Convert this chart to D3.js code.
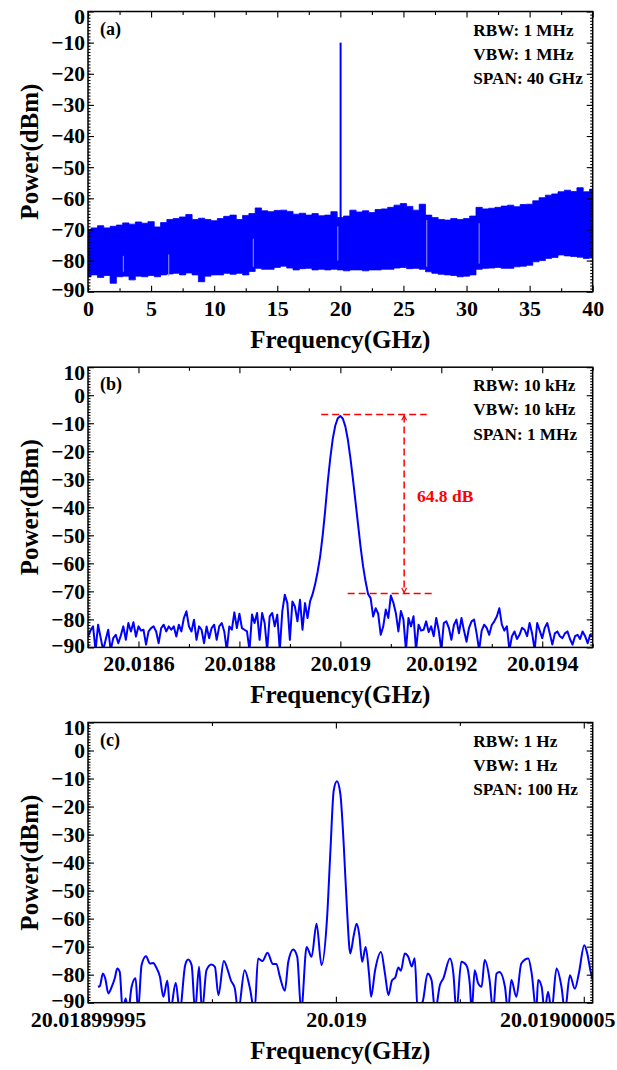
<!DOCTYPE html>
<html>
<head>
<meta charset="utf-8">
<script src="https://cdn.jsdelivr.net/npm/d3@7"></script>
<style>
  body { margin: 0; background: #fff; }
  svg text { font-family: "Liberation Serif", "Times New Roman", serif; font-weight: bold; }
</style>
</head>
<body>
<div id="chart"></div>
<script>
// ---------- data ----------
// (a) 0-40 GHz span: the trace is a dense noise band, kept as its upper / lower envelope (every 0.5 GHz)
const bandStartGHz = 0, bandStepGHz = 0.5;
const bandUpper = [
  -70.0, -69.5, -68.8, -69.5, -69.0, -68.6, -67.9, -68.3, -67.6, -68.0,
  -67.5, -69.2, -67.8, -66.8, -66.5, -66.0, -65.2, -66.8, -66.4, -66.8,
  -67.2, -66.5, -65.8, -65.4, -66.8, -65.5, -64.9, -63.1, -64.0, -64.3,
  -63.9, -63.8, -64.2, -65.1, -64.8, -65.4, -64.9, -65.6, -65.4, -64.3,
  -66.2, -65.7, -63.8, -64.4, -64.0, -64.6, -63.6, -63.4, -62.9, -62.2,
  -61.7, -62.6, -63.8, -61.9, -65.4, -66.2, -66.8, -67.0, -66.5, -66.8,
  -66.5, -65.7, -62.9, -63.4, -63.2, -62.9, -62.5, -62.2, -62.7, -62.0,
  -61.9, -60.8, -59.8, -59.0, -58.6, -57.9, -57.4, -57.8, -56.6, -57.9,
  -57.1
];
const bandLower = [
  -85.2, -84.6, -85.4, -84.8, -87.3, -85.2, -85.0, -86.2, -85.0, -85.2,
  -84.8, -85.2, -84.6, -84.3, -84.1, -84.6, -84.0, -84.6, -86.8, -85.0,
  -84.6, -84.6, -84.1, -84.4, -84.1, -84.6, -83.5, -82.5, -82.8, -82.8,
  -82.2, -81.8, -82.4, -83.0, -82.6, -82.5, -83.0, -82.8, -83.0, -82.8,
  -83.0, -83.3, -83.0, -83.0, -83.3, -83.0, -83.0, -82.8, -82.8, -82.4,
  -82.2, -82.6, -82.5, -82.8, -83.6, -84.1, -84.4, -84.6, -84.8, -85.2,
  -85.0, -84.6, -82.8, -82.5, -82.4, -82.2, -82.5, -82.5, -82.0, -81.8,
  -81.5, -80.4, -80.0, -79.3, -79.0, -78.2, -78.5, -78.7, -78.9, -79.3,
  -79.0
];
// carrier line and the pale gaps seen inside the band
const carrierFreqGHz = [20.02];
const carrierPower = [-10];
const gapFreqGHz = [2.8, 6.4, 13.1, 19.8, 26.85, 31.0];
const gapTop = [-78.5, -78.0, -73.0, -69.0, -67.0, -68.0];
const gapBottom = [-83.6, -85.0, -82.0, -80.0, -82.0, -81.0];

// (b) 1 MHz span, offset from 20.019 GHz in kHz, one point every 5 kHz
const spanBStartKHz = -500, spanBStepKHz = 5;
const spanBPower = [
  -86.1, -84.0, -82.5, -91.0, -81.9, -86.5, -91.0, -87.3, -83.7, -91.0,
  -86.7, -85.5, -88.5, -85.8, -82.5, -87.3, -81.3, -84.3, -81.0, -86.1,
  -82.5, -84.0, -83.7, -89.0, -84.3, -83.1, -82.5, -84.3, -88.5, -83.1,
  -81.9, -84.3, -82.5, -83.7, -82.5, -86.1, -81.9, -84.3, -79.5, -77.1,
  -82.5, -84.3, -80.1, -87.3, -82.5, -83.7, -88.5, -82.5, -86.7, -83.1,
  -81.9, -87.3, -82.5, -81.3, -84.3, -91.0, -82.5, -83.7, -77.5, -83.1,
  -78.0, -83.1, -83.7, -84.3, -91.0, -78.3, -81.3, -77.7, -87.3, -77.7,
  -81.3, -91.0, -78.9, -77.7, -82.5, -78.3, -91.0, -77.1, -71.2, -74.2,
  -87.3, -73.6, -75.4, -80.7, -73.0, -83.7, -74.2, -79.5, -73.6, -71.0,
  -67.5, -63.0, -57.5, -50.0, -41.0, -31.0, -22.5, -15.5, -10.8, -8.2,
  -7.4, -8.4, -11.2, -16.0, -22.5, -30.0, -38.0, -46.0, -54.0, -61.0,
  -66.5, -71.0, -72.4, -79.0, -76.0, -78.0, -85.5, -82.5, -76.5, -79.5,
  -71.5, -74.0, -77.8, -84.3, -77.0, -80.0, -91.0, -79.5, -82.5, -78.9,
  -91.0, -81.9, -84.0, -83.7, -80.7, -84.5, -82.5, -86.0, -79.5, -84.0,
  -91.0, -81.3, -80.7, -83.0, -87.3, -82.0, -80.1, -85.0, -79.5, -84.0,
  -88.0, -83.0, -80.7, -80.1, -85.0, -91.0, -84.0, -81.9, -83.0, -85.5,
  -82.0, -80.7, -79.0, -76.0, -81.9, -84.0, -82.5, -91.0, -86.0, -84.3,
  -87.0, -85.5, -83.0, -83.7, -86.0, -81.3, -85.0, -91.0, -81.3, -84.0,
  -86.7, -83.0, -81.3, -85.0, -89.0, -85.0, -84.3, -86.0, -86.7, -85.0,
  -84.3, -87.0, -89.0, -86.0, -85.5, -87.0, -84.3, -86.0, -88.5, -85.5,
  -86.0
];
const markTopDb = -6.9, markBottomDb = -70.8;
const markLabel = "64.8 dB";

// (c) 100 Hz span, offset from 20.019 GHz in Hz (turning points of the trace)
const spanCHz = [
  -48.0, -47.6, -47.0, -46.5, -45.9, -45.2, -44.6, -44.1, -43.6, -43.0,
  -42.4, -41.9, -41.2, -40.4, -39.9, -39.2, -38.3, -37.5, -36.8, -36.3,
  -35.5, -34.8, -34.0, -33.4, -32.3, -31.5, -30.4, -29.8, -29.1, -28.4,
  -27.6, -27.0, -26.1, -25.1, -24.4, -23.7, -22.6, -21.7, -21.2, -20.4,
  -19.7, -18.4, -17.4, -16.4, -15.7, -14.8, -13.8, -12.7, -12.0, -11.3,
  -10.3, -9.6, -8.6, -7.8, -7.0, -5.9, -4.9, -3.9, -2.9, -1.8,
  -1.1, -0.44, 0.2, 0.9, 1.57, 2.25, 2.9, 3.6, 4.2, 4.7,
  5.3, 6.0, 6.7, 7.1, 7.9, 9.1, 9.9, 10.6, 11.3, 12.0,
  12.6, 13.1, 13.9, 14.6, 15.3, 15.9, 16.5, 17.6, 18.5, 19.3,
  20.0, 21.0, 21.7, 23.0, 23.7, 24.3, 25.3, 26.3, 27.0, 27.4,
  28.0, 28.7, 29.4, 30.0, 31.0, 31.7, 32.4, 33.0, 34.1, 34.7,
  35.4, 36.4, 37.4, 38.8, 39.5, 40.4, 40.8, 41.5, 42.1, 42.8,
  43.5, 44.5, 45.5, 46.2, 47.2, 48.2, 49.0, 50.1, 50.7, 51.4,
  51.8
];
const spanCPower = [
  -84.3, -84.0, -79.6, -81.5, -86.7, -84.3, -81.3, -77.8, -79.0, -93.0,
  -88.5, -93.0, -84.3, -81.3, -93.0, -76.6, -73.4, -76.0, -75.8, -77.2,
  -80.7, -87.9, -82.2, -93.0, -82.9, -93.0, -76.6, -74.6, -76.6, -93.0,
  -77.2, -93.0, -78.4, -76.4, -77.2, -87.3, -75.1, -79.0, -81.9, -84.8,
  -93.0, -78.4, -84.3, -93.0, -74.2, -75.1, -72.2, -76.2, -76.2, -80.7,
  -85.7, -75.4, -71.0, -73.6, -93.0, -70.1, -73.6, -61.8, -76.6, -60.3,
  -35.7, -14.3, -11.0, -15.5, -33.2, -57.0, -72.4, -66.0, -61.8, -65.5,
  -75.4, -70.1, -80.0, -87.9, -78.5, -71.9, -79.6, -87.3, -82.1, -80.9,
  -77.4, -78.6, -72.4, -73.6, -77.1, -74.1, -93.0, -88.9, -79.6, -82.0,
  -93.0, -83.6, -81.2, -74.2, -79.6, -93.0, -75.4, -76.6, -83.1, -93.0,
  -78.4, -83.1, -84.3, -74.8, -81.9, -93.0, -79.6, -79.0, -84.3, -93.0,
  -81.9, -87.9, -76.0, -74.2, -79.6, -93.0, -81.9, -84.3, -93.0, -86.1,
  -93.0, -77.8, -84.3, -93.0, -80.2, -85.0, -79.6, -69.5, -72.4, -79.0,
  -82.0
];

const infoA = ["RBW: 1 MHz", "VBW: 1 MHz", "SPAN: 40 GHz"];
const infoB = ["RBW: 10 kHz", "VBW: 10 kHz", "SPAN: 1 MHz"];
const infoC = ["RBW: 1 Hz", "VBW: 1 Hz", "SPAN: 100 Hz"];

// ---------- layout ----------
const W = 617, H = 1070;
const left = 88, plotW = 504.7, plotH = 280.2;
const tops = [11.5, 367.2, 722.5];
const blue = "#0000ff";
const serif = '"Liberation Serif", "Times New Roman", Times, serif';

const svg = d3.select('#chart').append('svg')
  .attr('width', W).attr('height', H);

const trim = s => s.replace(/\.?0+$/, '');

function drawFrame(g, x, y, o) {
  const axes = [
    [d3.axisBottom(x).tickValues(o.xMinor).tickSize(-3.5).tickFormat(''), `translate(0,${plotH})`],
    [d3.axisTop(x).tickValues(o.xMinor).tickSize(-3.5).tickFormat(''), 'translate(0,0)'],
    [d3.axisTop(x).tickValues(o.xMajor).tickSize(-6).tickFormat(''), 'translate(0,0)'],
    [d3.axisLeft(y).tickValues(o.yMinor).tickSize(-2.5).tickFormat(''), 'translate(0,0)'],
    [d3.axisRight(y).tickValues(o.yMinor).tickSize(-2.5).tickFormat(''), `translate(${plotW},0)`],
    [d3.axisRight(y).tickValues(o.yMajor).tickSize(-6).tickFormat(''), `translate(${plotW},0)`]
  ];
  axes.forEach(([a, tr]) => {
    g.append('g').attr('transform', tr).call(a)
      .call(s => s.select('.domain').remove())
      .selectAll('line').attr('stroke-width', 1.1);
  });

  // labelled bottom axis
  const xb = g.append('g').attr('transform', `translate(0,${plotH})`)
    .call(d3.axisBottom(x).tickValues(o.xMajor).tickSize(-6).tickPadding(8.4).tickFormat(o.xFormat));
  xb.select('.domain').remove();
  xb.selectAll('line').attr('stroke-width', 1.1);
  xb.attr('font-family', serif).attr('font-size', null);
  xb.selectAll('text').attr('font-size', 22).attr('fill', '#000');
  // keep the last label inside the page
  xb.selectAll('.tick text').each(function(d) {
    const w = this.getComputedTextLength();
    const cx = left + x(d);
    if (cx + w / 2 > W - 2) d3.select(this).attr('x', (W - 2) - cx - w / 2);
  });

  // labelled left axis
  const yl = g.append('g')
    .call(d3.axisLeft(y).tickValues(o.yMajor).tickSize(-6).tickPadding(3).tickFormat(d3.format('d')));
  yl.select('.domain').remove();
  yl.selectAll('line').attr('stroke-width', 1.1);
  yl.attr('font-family', serif).attr('font-size', null);
  yl.selectAll('text').attr('font-size', 21.5).attr('fill', '#000');
  yl.selectAll('.tick').filter(d => d === y.domain()[1]).select('text').attr('dy', '0.56em');
  yl.selectAll('.tick').filter(d => d === y.domain()[0]).select('text').attr('dy', '0.24em');

  g.append('rect').attr('width', plotW).attr('height', plotH)
    .attr('fill', 'none').attr('stroke', '#000').attr('stroke-width', 1.5);

  // axis titles
  g.append('text').attr('x', plotW / 2).attr('y', plotH + 56)
    .attr('text-anchor', 'middle').attr('font-size', 25).text('Frequency(GHz)');
  g.append('text').attr('transform', `translate(${38 - left},${plotH / 2}) rotate(-90)`)
    .attr('text-anchor', 'middle').attr('font-size', 25).text('Power(dBm)');

  // panel tag and analyser settings
  g.append('text').attr('x', 12).attr('y', 23).attr('font-size', 18).text(o.tag);
  g.selectAll('.info').data(o.info).enter().append('text')
    .attr('class', 'info')
    .attr('x', 385.3).attr('y', (d, i) => 24 + i * 24.2)
    .attr('font-size', 17.2).text(d => d);
}

function clipFor(g, id) {
  g.append('clipPath').attr('id', id).append('rect')
    .attr('width', plotW).attr('height', plotH);
  return `url(#${id})`;
}

// ---------- (a) ----------
{
  const g = svg.append('g').attr('transform', `translate(${left},${tops[0]})`);
  const x = d3.scaleLinear().domain([0, 40]).range([0, plotW]);
  const y = d3.scaleLinear().domain([-90, 0]).range([plotH, 0]);
  const band = bandUpper.map((u, i) => ({ f: bandStartGHz + i * bandStepGHz, hi: u, lo: bandLower[i] }));
  const cl = clipFor(g, 'clipA');
  const area = d3.area().x(d => x(d.f)).y0(d => y(d.lo)).y1(d => y(d.hi)).curve(d3.curveStep);
  g.append('path').datum(band).attr('clip-path', cl)
    .attr('d', area).attr('fill', blue).attr('stroke', blue).attr('stroke-width', 0.8);
  g.selectAll('.gap').data(gapFreqGHz).enter().append('line')
    .attr('x1', d => x(d)).attr('x2', d => x(d))
    .attr('y1', (d, i) => y(gapTop[i])).attr('y2', (d, i) => y(gapBottom[i]))
    .attr('stroke', '#9a9aff').attr('stroke-width', 1);
  g.selectAll('.carrier').data(carrierFreqGHz).enter().append('line')
    .attr('x1', d => x(d)).attr('x2', d => x(d))
    .attr('y1', y(-76)).attr('y2', (d, i) => y(carrierPower[i]))
    .attr('stroke', blue).attr('stroke-width', 2);
  drawFrame(g, x, y, {
    xMajor: d3.range(0, 41, 5), xMinor: d3.range(2.5, 40, 5),
    yMajor: d3.range(-90, 1, 10), yMinor: d3.range(-89, 0, 1),
    xFormat: d3.format('d'), tag: '(a)', info: infoA
  });
}

// ---------- (b) ----------
{
  const g = svg.append('g').attr('transform', `translate(${left},${tops[1]})`);
  const x = d3.scaleLinear().domain([-500, 500]).range([0, plotW]);
  const y = d3.scaleLinear().domain([-90, 10]).range([plotH, 0]);
  const pts = spanBPower.map((p, i) => ({ f: spanBStartKHz + i * spanBStepKHz, p }));
  const cl = clipFor(g, 'clipB');
  g.append('path').datum(pts).attr('clip-path', cl)
    .attr('d', d3.line().x(d => x(d.f)).y(d => y(d.p)))
    .attr('fill', 'none').attr('stroke', blue).attr('stroke-width', 2).attr('stroke-linejoin', 'round');

  // 64.8 dB marker
  const red = '#ff0000';
  svg.append('defs').append('marker').attr('id', 'arr')
    .attr('viewBox', '0 0 10 10').attr('refX', 9).attr('refY', 5)
    .attr('markerWidth', 6).attr('markerHeight', 6).attr('markerUnits', 'userSpaceOnUse')
    .attr('orient', 'auto-start-reverse')
    .append('path').attr('d', 'M1,1 L9,5 L1,9').attr('fill', 'none')
    .attr('stroke', red).attr('stroke-width', 2);
  const dash = '7,4';
  g.append('line').attr('x1', x(-38)).attr('x2', x(171))
    .attr('y1', y(markTopDb)).attr('y2', y(markTopDb))
    .attr('stroke', red).attr('stroke-width', 1.5).attr('stroke-dasharray', dash);
  g.append('line').attr('x1', x(14.5)).attr('x2', x(183.5))
    .attr('y1', y(markBottomDb)).attr('y2', y(markBottomDb))
    .attr('stroke', red).attr('stroke-width', 1.5).attr('stroke-dasharray', dash);
  g.append('line').attr('x1', x(126.4)).attr('x2', x(126.4))
    .attr('y1', y(markTopDb) + 1).attr('y2', y(markBottomDb) - 1)
    .attr('stroke', red).attr('stroke-width', 1.5).attr('stroke-dasharray', dash)
    .attr('marker-start', 'url(#arr)').attr('marker-end', 'url(#arr)');
  g.append('text').attr('x', x(151.7)).attr('y', y(-36.1) + 6)
    .attr('font-size', 17.5).attr('fill', red).text(markLabel);

  drawFrame(g, x, y, {
    xMajor: [-400, -200, 0, 200, 400], xMinor: [-500, -300, -100, 100, 300, 500],
    yMajor: d3.range(-90, 11, 10), yMinor: d3.range(-89, 10, 1),
    xFormat: d => trim((20.019 + d * 1e-6).toFixed(7)), tag: '(b)', info: infoB
  });
}

// ---------- (c) ----------
{
  const g = svg.append('g').attr('transform', `translate(${left},${tops[2]})`);
  const x = d3.scaleLinear().domain([-50, 51.8]).range([0, plotW]);
  const y = d3.scaleLinear().domain([-90, 10]).range([plotH, 0]);
  const pts = spanCHz.map((f, i) => ({ f, p: spanCPower[i] }));
  const cl = clipFor(g, 'clipC');
  g.append('path').datum(pts).attr('clip-path', cl)
    .attr('d', d3.line().x(d => x(d.f)).y(d => y(d.p)).curve(d3.curveMonotoneX))
    .attr('fill', 'none').attr('stroke', blue).attr('stroke-width', 2);
  drawFrame(g, x, y, {
    xMajor: [-50, 0, 50], xMinor: [-25, 25],
    yMajor: d3.range(-90, 11, 10), yMinor: d3.range(-89, 10, 1),
    xFormat: d => trim((20.019 + d * 1e-9).toFixed(8)), tag: '(c)', info: infoC
  });
}

// same bold serif face everywhere
svg.selectAll('text').attr('font-family', serif).attr('font-weight', 'bold');
</script>
</body>
</html>
